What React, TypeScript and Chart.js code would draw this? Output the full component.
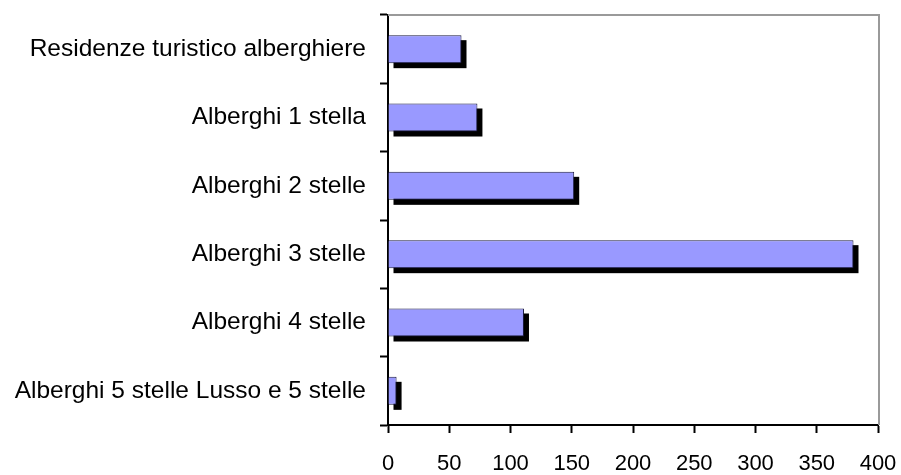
import React, { useEffect, useRef } from "react";
import { Chart, registerables } from "chart.js";

Chart.register(...registerables);

const categories: string[] = [
  "Residenze turistico alberghiere",
  "Alberghi 1 stella",
  "Alberghi 2 stelle",
  "Alberghi 3 stelle",
  "Alberghi 4 stelle",
  "Alberghi 5 stelle Lusso e 5 stelle",
];
const values: number[] = [60, 73, 152, 380, 111, 7];
const xMin = 0;
const xMax = 400;
const xStep = 50;

const FONT = "'Liberation Sans', Arial, sans-serif";

const shadowPlugin = {
  id: "barShadow",
  beforeDatasetsDraw(chart: any) {
    const ctx = chart.ctx;
    const off = 5;
    ctx.save();
    ctx.fillStyle = "#000000";
    chart.data.datasets.forEach((_: any, i: number) => {
      const meta = chart.getDatasetMeta(i);
      meta.data.forEach((el: any) => {
        const p = el.getProps(["x", "y", "base", "height"], true);
        const left = Math.min(p.base, p.x);
        const w = Math.abs(p.x - p.base);
        ctx.fillRect(left + off, p.y - p.height / 2 + off, w, p.height);
      });
    });
    ctx.restore();
  },
};

const framePlugin = {
  id: "frame",
  afterDraw(chart: any) {
    const { ctx, chartArea } = chart;
    ctx.save();
    ctx.strokeStyle = "#9a9a9a";
    ctx.lineWidth = 2;
    ctx.beginPath();
    ctx.moveTo(chartArea.left, chartArea.top);
    ctx.lineTo(chartArea.right + 1, chartArea.top);
    ctx.lineTo(chartArea.right + 1, chartArea.bottom);
    ctx.stroke();
    ctx.restore();
  },
};

function zeroPad(scale: any) {
  scale.paddingTop = 0;
  scale.paddingBottom = 0;
  scale.paddingLeft = 0;
  scale.paddingRight = 0;
}

export default function App() {
  const ref = useRef<HTMLCanvasElement | null>(null);

  useEffect(() => {
    if (!ref.current) return;
    const chart = new Chart(ref.current, {
      type: "bar",
      data: {
        labels: categories,
        datasets: [
          {
            data: values,
            backgroundColor: "#9999ff",
            borderColor: "#1a1a40",
            borderWidth: 1,
            categoryPercentage: 1,
            barPercentage: 0.41,
          },
        ],
      },
      options: {
        indexAxis: "y",
        animation: false,
        responsive: false,
        devicePixelRatio: 1,
        layout: { padding: { left: 0, right: 23, top: 15, bottom: 0 } },
        plugins: {
          legend: { display: false },
          tooltip: { enabled: false },
        },
        scales: {
          x: {
            min: xMin,
            max: xMax,
            ticks: {
              stepSize: xStep,
              color: "#000",
              font: { family: FONT, size: 22 },
              padding: 18,
              maxRotation: 0,
            },
            grid: {
              drawOnChartArea: false,
              drawTicks: true,
              tickLength: 8,
              tickWidth: 2,
              tickColor: "#000",
            },
            border: { color: "#000", width: 2 },
            afterFit(scale: any) {
              scale.height = 50;
              zeroPad(scale);
            },
          },
          y: {
            ticks: {
              color: "#000",
              font: { family: FONT, size: 24.5 },
              padding: 14,
            },
            grid: {
              offset: true,
              drawOnChartArea: false,
              drawTicks: true,
              tickLength: 8,
              tickWidth: 2,
              tickColor: "#000",
            },
            border: { color: "#000", width: 2 },
            afterFit(scale: any) {
              scale.width = 388;
              zeroPad(scale);
            },
          },
        },
      },
      plugins: [shadowPlugin, framePlugin],
    });
    return () => chart.destroy();
  }, []);

  return (
    <div
      style={{
        position: "absolute",
        left: 0,
        top: 0,
        width: 901,
        height: 475,
        background: "#ffffff",
      }}
    >
      <canvas ref={ref} width={901} height={475} style={{ width: 901, height: 475 }} />
    </div>
  );
}
